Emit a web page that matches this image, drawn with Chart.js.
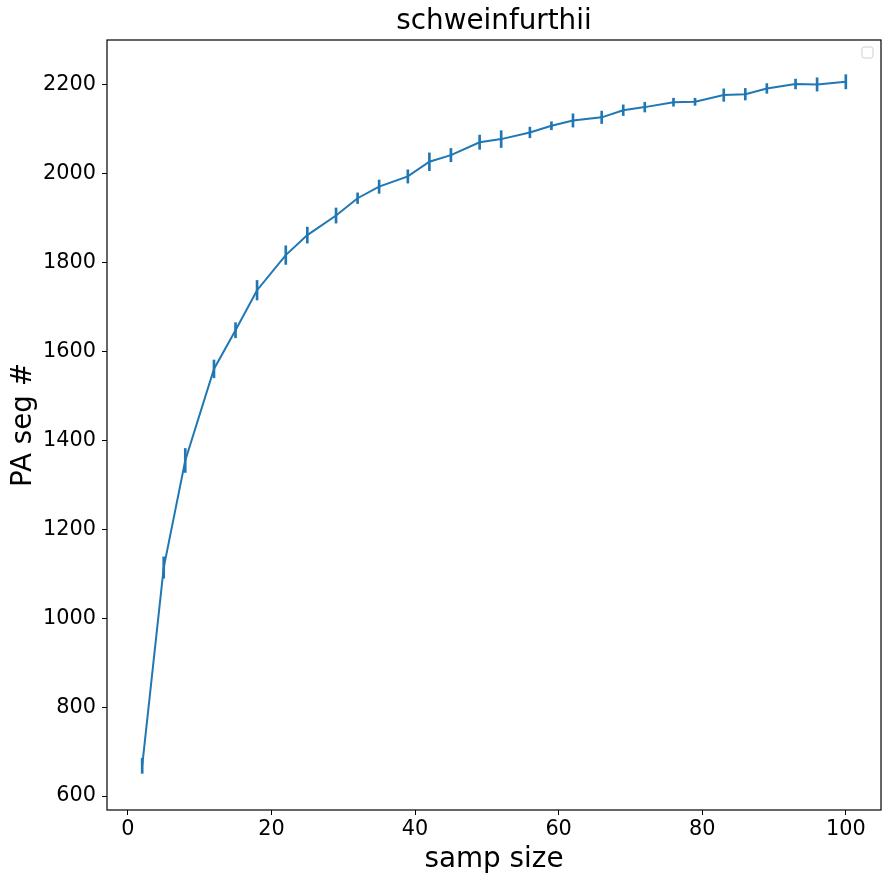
<!DOCTYPE html>
<html>
<head>
<meta charset="utf-8">
<script src="https://cdn.jsdelivr.net/npm/chart.js@4/dist/chart.umd.min.js"></script>
<style>
  html, body { margin: 0; padding: 0; background: #fff; }
  #wrap { width: 894px; height: 883px; }
</style>
</head>
<body>
<div id="wrap"><canvas id="segChart" width="894" height="883"></canvas></div>
<script>
// sample sizes (x) and mean number of PA segments with error (half-length)
const sampSize = [2, 5, 8, 12, 15, 18, 22, 25, 29, 32, 35, 39, 42, 45, 49, 52, 56, 59, 62, 66, 69, 72, 76, 79, 83, 86, 89, 93, 96, 100];
const segMean = [668, 1114, 1355, 1561, 1648, 1738, 1817, 1862, 1906, 1945, 1971, 1994, 2027, 2042, 2071, 2078, 2093, 2108, 2120, 2127, 2143, 2150, 2161, 2162, 2177, 2179, 2192, 2202, 2201, 2207];
const segErr = [17, 24, 27, 20, 17, 22, 21, 18, 17, 12, 15, 15, 20, 15, 16, 19, 12, 9, 15, 14, 12, 11, 9, 8, 14, 13, 11, 11, 15, 16];

const xTicks = [0, 20, 40, 60, 80, 100];
const yTicks = [600, 800, 1000, 1200, 1400, 1600, 1800, 2000, 2200];

const blue = "#1f77b4";
const font = "'DejaVu Sans', sans-serif";

// full box around the plot + the empty legend square
const framePlugin = {
  id: "frame",
  afterDraw(chart) {
    const a = chart.chartArea;
    const c = chart.ctx;
    c.save();
    c.strokeStyle = "#000";
    c.lineWidth = 1.2;
    c.strokeRect(a.left, a.top, a.right - a.left, a.bottom - a.top);
    // empty legend
    c.lineWidth = 1;
    c.strokeStyle = "#d0d0d0";
    c.fillStyle = "rgba(255,255,255,0.8)";
    c.beginPath();
    c.roundRect(a.right - 19, a.top + 7, 11, 11, 2);
    c.fill();
    c.stroke();
    c.restore();
  },
};

new Chart(document.getElementById("segChart").getContext("2d"), {
  data: {
    datasets: [
      {
        type: "line",
        data: sampSize.map((x, i) => ({ x: x, y: segMean[i] })),
        borderColor: blue,
        borderWidth: 2,
        pointRadius: 0,
        tension: 0,
        order: 1,
      },
      {
        // error bars as thin floating bars
        type: "bar",
        data: sampSize.map((x, i) => ({ x: x, y: [segMean[i] - segErr[i], segMean[i] + segErr[i]] })),
        backgroundColor: blue,
        barThickness: 2,
        order: 2,
      },
    ],
  },
  options: {
    responsive: false,
    animation: false,
    layout: { padding: { left: 0, right: 13, top: 0, bottom: 0 } },
    plugins: {
      legend: { display: false },
      tooltip: { enabled: false },
      title: { display: false },
    },
    scales: {
      x: {
        type: "linear",
        offset: false,
        min: -2.9,
        max: 104.9,
        afterBuildTicks: (s) => { s.ticks = xTicks.map((v) => ({ value: v })); },
        afterFit: (s) => { s.height = 73; },
        grid: { display: true, offset: false, drawOnChartArea: false, drawTicks: true, tickLength: 5, color: "#000" },
        border: { display: false },
        ticks: { color: "#000", font: { family: font, size: 20.8 }, padding: 2, maxRotation: 0 },
        title: {
          display: true,
          text: "samp size",
          color: "#000",
          font: { family: font, size: 27.8 },
          padding: { top: 0, bottom: 7 },
        },
      },
      // top axis only carries the chart title, centred over the plot
      xTop: {
        type: "linear",
        position: "top",
        offset: false,
        min: -2.9,
        max: 104.9,
        afterFit: (s) => { s.height = 40; },
        grid: { display: false },
        border: { display: false },
        ticks: { display: false },
        title: {
          display: true,
          text: "schweinfurthii",
          color: "#000",
          font: { family: font, size: 27.8 },
          padding: { top: 5, bottom: 0 },
        },
      },
      y: {
        type: "linear",
        min: 568.5,
        max: 2301,
        afterBuildTicks: (s) => { s.ticks = yTicks.map((v) => ({ value: v })); },
        afterFit: (s) => { s.width = 107; },
        grid: { display: true, drawOnChartArea: false, drawTicks: true, tickLength: 5, color: "#000" },
        border: { display: false },
        ticks: { color: "#000", font: { family: font, size: 20.8 }, padding: 6, callback: (v) => String(v) },
        title: {
          display: true,
          text: "PA seg #",
          color: "#000",
          font: { family: font, size: 27.8 },
          padding: { top: 7, bottom: 4 },
        },
      },
    },
  },
  plugins: [framePlugin],
});
</script>
</body>
</html>
